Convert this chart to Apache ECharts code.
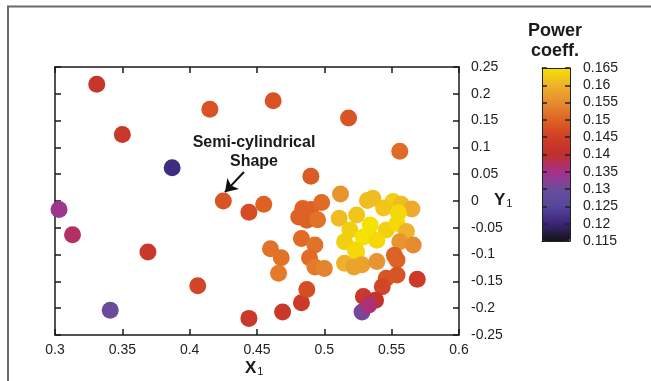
<!DOCTYPE html>
<html>
<head>
<meta charset="utf-8">
<script src="https://cdn.jsdelivr.net/npm/echarts@6/dist/echarts.min.js"></script>
<style>
  html, body { margin: 0; padding: 0; background: #fff; }
  #chart { width: 651px; height: 381px; }
</style>
</head>
<body>
<div id="chart"></div>
<script>
// design points: X1, Y1 and the power coefficient (colour)
const x1 = [
  0.331, 0.415, 0.462, 0.350, 0.518, 0.556, 0.387, 0.490, 0.425, 0.303,
  0.444, 0.455, 0.313, 0.369, 0.406, 0.341, 0.444, 0.469, 0.483, 0.487,
  0.569,
  0.460, 0.468, 0.466, 0.483, 0.481, 0.484, 0.490, 0.487, 0.495, 0.498,
  0.493, 0.489, 0.493, 0.500, 0.512,
  0.511, 0.532, 0.536, 0.551, 0.557, 0.565, 0.544, 0.555, 0.524, 0.534,
  0.546, 0.554, 0.561, 0.519, 0.515, 0.529, 0.539, 0.523, 0.524, 0.556,
  0.566, 0.515, 0.522, 0.528, 0.539,
  0.552, 0.554, 0.554, 0.546, 0.543, 0.529, 0.538, 0.528, 0.533
]
const y1 = [
  0.218, 0.171, 0.187, 0.124, 0.155, 0.093, 0.062, 0.046, 0.000, -0.016,
  -0.021, -0.006, -0.063, -0.095, -0.158, -0.204, -0.219, -0.207, -0.190, -0.165,
  -0.146,
  -0.089, -0.106, -0.135, -0.070, -0.030, -0.014, -0.016, -0.036, -0.035, -0.003,
  -0.082, -0.106, -0.123, -0.126, 0.013,
  -0.032, 0.001, 0.005, -0.001, -0.006, -0.015, -0.013, -0.022, -0.026, -0.045,
  -0.054, -0.042, -0.057, -0.054, -0.076, -0.067, -0.073, -0.091, -0.095, -0.076,
  -0.082, -0.116, -0.123, -0.119, -0.113,
  -0.101, -0.110, -0.138, -0.144, -0.160, -0.178, -0.185, -0.207, -0.194
]
const powerCoeff = [
  0.142, 0.148, 0.148, 0.143, 0.148, 0.151, 0.121, 0.149, 0.148, 0.134,
  0.147, 0.150, 0.137, 0.143, 0.146, 0.130, 0.143, 0.143, 0.144, 0.147,
  0.144,
  0.152, 0.152, 0.153, 0.151, 0.150, 0.150, 0.150, 0.150, 0.152, 0.151,
  0.152, 0.151, 0.153, 0.154, 0.156,
  0.161, 0.161, 0.161, 0.163, 0.161, 0.159, 0.162, 0.164, 0.162, 0.165,
  0.163, 0.164, 0.160, 0.163, 0.163, 0.165, 0.164, 0.164, 0.164, 0.156,
  0.155, 0.160, 0.158, 0.158, 0.156,
  0.150, 0.150, 0.148, 0.148, 0.146, 0.143, 0.141, 0.131, 0.136
]

// colour scale 0.115 -> 0.165
const cMin = 0.115
const cMax = 0.165
const palette = [
  "#141414", "#3a2478", "#55479a", "#6b4c9c", "#a8308a", "#c0302c",
  "#cf3e26", "#de6224", "#e68c30", "#efb22a", "#f6e200"
]

const points = x1.map((x, i) => [x, y1[i], powerCoeff[i]])

const chart = echarts.init(document.getElementById("chart"))

const axisLine = { show: true, onZero: false, lineStyle: { color: "#1a1a1a", width: 1.5 } }
const tickIn = { show: true, inside: true, length: 6, lineStyle: { color: "#1a1a1a", width: 1.5 } }
const barLine = { show: true, onZero: false, lineStyle: { color: "#222", width: 1 } }
const barTick = { show: true, inside: true, length: 5, lineStyle: { color: "#222", width: 1.5 } }
const labelFont = { color: "#222", fontSize: 14, fontFamily: "Liberation Sans, Arial, sans-serif" }

const option = {
  animation: false,
  backgroundColor: "#fff",
  grid: [
    { left: 55, top: 67, width: 404, height: 268 },
    { left: 542, top: 68, width: 28, height: 173 },
  ],
  xAxis: [
    {
      type: "value", gridIndex: 0, position: "bottom", min: 0.3, max: 0.6, interval: 0.05,
      axisLine, axisTick: tickIn, splitLine: { show: false },
      axisLabel: { ...labelFont, margin: 8 },
    },
    {
      type: "value", gridIndex: 0, position: "top", min: 0.3, max: 0.6, interval: 0.05,
      axisLine, axisTick: tickIn, splitLine: { show: false }, axisLabel: { show: false },
    },
    {
      type: "value", gridIndex: 1, position: "bottom", min: 0, max: 1, z: 10,
      axisLine: barLine, axisTick: { show: false }, axisLabel: { show: false }, splitLine: { show: false },
    },
    {
      type: "value", gridIndex: 1, position: "top", min: 0, max: 1, z: 10,
      axisLine: barLine, axisTick: { show: false }, axisLabel: { show: false }, splitLine: { show: false },
    },
  ],
  yAxis: [
    {
      type: "value", gridIndex: 0, position: "right", min: -0.25, max: 0.25, interval: 0.05,
      axisLine, axisTick: tickIn, splitLine: { show: false },
      axisLabel: { ...labelFont, margin: 12 },
    },
    {
      type: "value", gridIndex: 0, position: "left", min: -0.25, max: 0.25, interval: 0.05,
      axisLine, axisTick: tickIn, splitLine: { show: false }, axisLabel: { show: false },
    },
    {
      type: "value", gridIndex: 1, position: "right", min: cMin, max: cMax, interval: 0.005, z: 10,
      axisLine: barLine, axisTick: barTick, splitLine: { show: false },
      axisLabel: { ...labelFont, margin: 13 },
    },
    {
      type: "value", gridIndex: 1, position: "left", min: cMin, max: cMax, interval: 0.005, z: 10,
      axisLine: barLine, axisTick: barTick, splitLine: { show: false }, axisLabel: { show: false },
    },
  ],
  visualMap: {
    type: "continuous",
    min: cMin,
    max: cMax,
    dimension: 2,
    seriesIndex: 0,
    calculable: false,
    realtime: false,
    left: 542,
    top: 68,
    itemWidth: 28,
    itemHeight: 173,
    padding: 0,
    text: null,
    inRange: { color: palette },
  },
  series: [
    {
      type: "scatter",
      xAxisIndex: 0,
      yAxisIndex: 0,
      data: points,
      symbolSize: 17,
      itemStyle: { opacity: 1 },
      markLine: {
        silent: true,
        z: 20,
        symbol: ["none", "arrow"],
        symbolSize: 12,
        label: { show: false },
        lineStyle: { color: "#111", width: 2, type: "solid" },
        data: [[{ coord: [0.4403, 0.0541] }, { coord: [0.4262, 0.0165] }]],
      },
    },
  ],
  graphic: [
    {
      type: "rect",
      shape: { x: 8, y: 6.5, width: 700, height: 420 },
      style: { fill: "none", stroke: "#6a6a6a", lineWidth: 2 },
      z: 100,
    },
    {
      type: "text", x: 254, y: 143,
      style: {
        text: "Semi-cylindrical\nShape", align: "center", verticalAlign: "middle", lineHeight: 19,
        font: "bold 16px Liberation Sans, Arial, sans-serif", fill: "#1a1a1a",
      },
      // the block is two lines, so shift it down by half a line
      y: 152,
    },
    {
      type: "text", x: 555, y: 41,
      style: {
        text: "Power\ncoeff.", align: "center", verticalAlign: "middle", lineHeight: 20,
        font: "bold 18px Liberation Sans, Arial, sans-serif", fill: "#1a1a1a",
      },
    },
    {
      type: "text", left: 245, top: 360,
      style: {
        text: "{b|X}{s|1}",
        rich: {
          b: { font: "bold 17px Liberation Sans, Arial, sans-serif", fill: "#1a1a1a", verticalAlign: "bottom" },
          s: { font: "11px Liberation Sans, Arial, sans-serif", fill: "#1a1a1a", verticalAlign: "bottom", padding: [0, 0, 0, 1] },
        },
      },
    },
    {
      type: "text", left: 494, top: 192,
      style: {
        text: "{b|Y}{s|1}",
        rich: {
          b: { font: "bold 17px Liberation Sans, Arial, sans-serif", fill: "#1a1a1a", verticalAlign: "bottom" },
          s: { font: "11px Liberation Sans, Arial, sans-serif", fill: "#1a1a1a", verticalAlign: "bottom", padding: [0, 0, 0, 1] },
        },
      },
    },
  ],
}

chart.setOption(option)
</script>
</body>
</html>
